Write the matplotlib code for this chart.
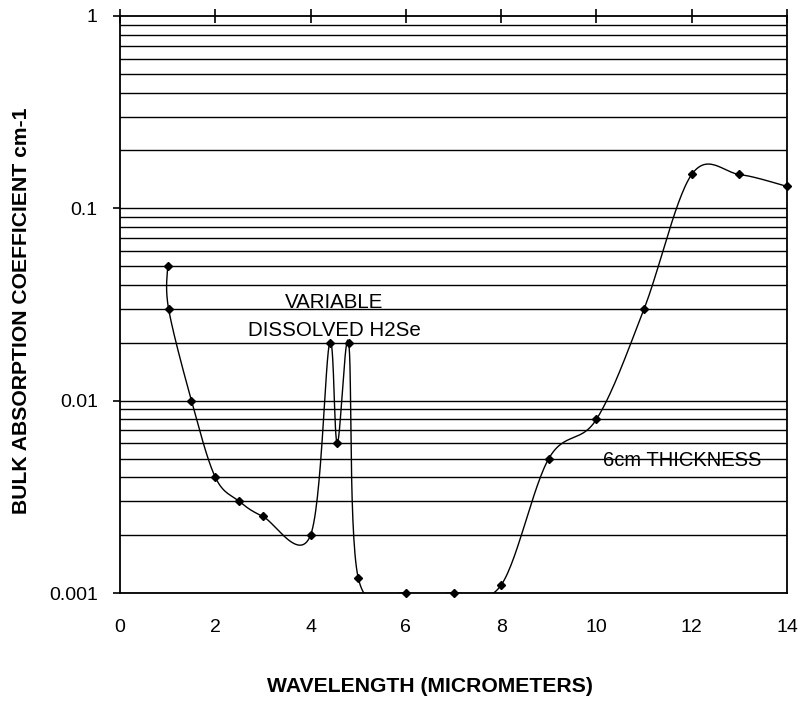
import numpy as np
import matplotlib
matplotlib.use("Agg")
import matplotlib.pyplot as plt
from matplotlib.ticker import FixedLocator, NullFormatter

# wavelength (micrometers) and bulk absorption coefficient (cm-1)
wavelength = [1.0, 1.02, 1.5, 2.0, 2.5, 3.0, 4.0, 4.4, 4.56, 4.8, 5.0,
              6.0, 7.0, 8.0, 9.0, 10.0, 11.0, 12.0, 13.0, 14.0]
absorption = [0.05, 0.03, 0.01, 0.004, 0.003, 0.0025, 0.002, 0.02, 0.006, 0.02, 0.0012,
              0.001, 0.001, 0.0011, 0.005, 0.008, 0.03, 0.15, 0.15, 0.13]

x_ticks = [0, 2, 4, 6, 8, 10, 12, 14]
y_ticks = [0.001, 0.01, 0.1, 1]
y_labels = ["0.001", "0.01", "0.1", "1"]


# smoothed line like the spreadsheet one (catmull-rom in x / log y space)
def smooth(xs, ys, n=30):
    px = np.array(xs, float)
    py = np.log10(np.array(ys, float))
    px = np.concatenate([[px[0]], px, [px[-1]]])
    py = np.concatenate([[py[0]], py, [py[-1]]])
    ox, oy = [], []
    t = np.linspace(0, 1, n)
    for i in range(1, len(px) - 2):
        p0, p1, p2, p3 = px[i-1], px[i], px[i+1], px[i+2]
        q0, q1, q2, q3 = py[i-1], py[i], py[i+1], py[i+2]
        # bezier control points
        c1x = p1 + (p2 - p0) / 6.
        c2x = p2 - (p3 - p1) / 6.
        c1y = q1 + (q2 - q0) / 6.
        c2y = q2 - (q3 - q1) / 6.
        bx = (1-t)**3*p1 + 3*(1-t)**2*t*c1x + 3*(1-t)*t**2*c2x + t**3*p2
        by = (1-t)**3*q1 + 3*(1-t)**2*t*c1y + 3*(1-t)*t**2*c2y + t**3*q2
        ox.extend(bx)
        oy.extend(by)
    return np.array(ox), 10**np.array(oy)


plt.rcParams['font.family'] = ['Liberation Sans', 'DejaVu Sans']

fig = plt.figure(figsize=(7.99, 7.02), dpi=100)
ax = fig.add_axes([120/799., 1 - 593/702., (787-120)/799., (593-16)/702.])

ax.set_yscale('log')
ax.set_xlim(0, 14)
ax.set_ylim(0.001, 1)

# horizontal grid at every log step
grid_vals = []
for dec in [0.001, 0.01, 0.1]:
    for k in range(1, 10):
        grid_vals.append(dec * k)
for g in grid_vals:
    ax.axhline(g, color='black', lw=1.0, zorder=1)

sx, sy = smooth(wavelength, absorption)
ax.plot(sx, sy, color='black', lw=1.0, zorder=3)
ax.plot(wavelength, absorption, linestyle='none', marker='D', markersize=4.5,
        color='black', zorder=4, clip_on=False)

for s in ax.spines.values():
    s.set_linewidth(1.3)
    s.set_color('black')

ax.yaxis.set_major_locator(FixedLocator(y_ticks))
ax.set_yticklabels(y_labels)
ax.yaxis.set_minor_locator(FixedLocator([]))
ax.yaxis.set_minor_formatter(NullFormatter())
ax.tick_params(axis='y', which='major', direction='out', length=5, width=1.2,
               labelsize=14, pad=11)

ax.set_xticks(x_ticks)
ax.set_xticklabels([str(v) for v in x_ticks])
ax.tick_params(axis='x', which='major', top=True, bottom=False, direction='inout',
               length=9.5, width=1.2, labelsize=14, pad=14)

ax.text(4.5, 0.0325, "VARIABLE", fontsize=14.8, ha='center', va='center', zorder=5)
ax.text(4.5, 0.0232, "DISSOLVED H2Se", fontsize=14.8, ha='center', va='center', zorder=5)
ax.text(11.8, 0.0049, "6cm THICKNESS", fontsize=14.5, ha='center', va='center', zorder=5)

fig.text(430/799., 1 - 687/702., "WAVELENGTH (MICROMETERS)", fontsize=15.2,
         fontweight='bold', ha='center', va='center')
fig.text(22/799., 1 - 311/702., "BULK ABSORPTION COEFFICIENT cm-1", fontsize=15.2,
         fontweight='bold', ha='center', va='center', rotation=90)

fig.savefig("out.png", dpi=100)
